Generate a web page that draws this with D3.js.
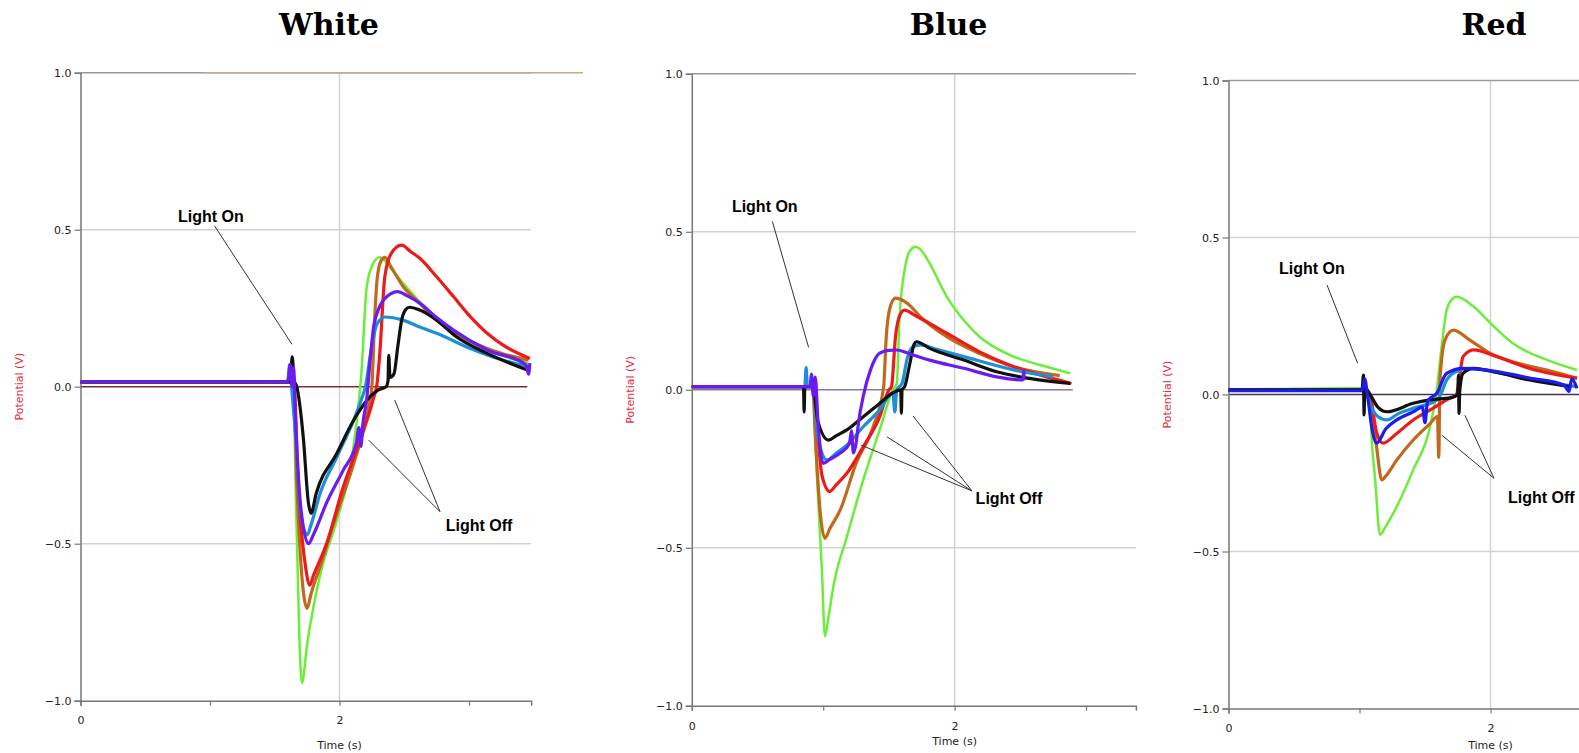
<!DOCTYPE html>
<html>
<head>
<meta charset="utf-8">
<script src="https://cdn.jsdelivr.net/npm/d3@7"></script>
<style>
body{margin:0;background:#fff;overflow:hidden}
</style>
</head>
<body>
<script>
let width = 1579;
let height = 753;

const titles = ['White', 'Blue', 'Red']
const yTicks = [1.0, 0.5, 0.0, -0.5, -1.0]
const yTickLabels = ['1.0', '0.5', '0.0', '\u22120.5', '\u22121.0']
const xTicks = [0, 1, 2, 3]
const xTickLabels = ['0', '', '2', '']
const seriesNames = ['green', 'brown', 'red', 'lightblue', 'black', 'purple']

// White light: [time (s), potential (V)]
const whiteGreen = [[0,0.015],[1.60,0.017],[1.63,0.04],[1.645,0.01],[1.66,-0.30],[1.69,-0.80],[1.71,-0.944],[1.75,-0.82],[1.85,-0.60],[1.98,-0.425],[2.08,-0.265],[2.14,-0.085],[2.17,0.05],[2.21,0.318],[2.26,0.393],[2.31,0.412],[2.40,0.375],[2.49,0.33],[2.62,0.27],[2.75,0.215],[3.01,0.142],[3.26,0.098],[3.46,0.075]]
const whiteBrown = [[0,0.015],[1.62,0.015],[1.645,0.0],[1.67,-0.30],[1.72,-0.65],[1.75,-0.706],[1.78,-0.66],[1.85,-0.573],[1.98,-0.403],[2.11,-0.244],[2.22,-0.074],[2.25,0.0],[2.27,0.2],[2.29,0.34],[2.32,0.40],[2.35,0.412],[2.40,0.38],[2.49,0.32],[2.62,0.265],[2.75,0.212],[3.01,0.145],[3.26,0.105],[3.46,0.085]]
const whiteRed = [[0,0.015],[1.62,0.015],[1.65,0.0],[1.68,-0.30],[1.74,-0.58],[1.77,-0.632],[1.80,-0.60],[1.90,-0.50],[2.03,-0.318],[2.16,-0.17],[2.26,-0.04],[2.29,0.01],[2.31,0.10],[2.35,0.35],[2.40,0.425],[2.48,0.451],[2.55,0.43],[2.62,0.409],[2.75,0.35],[2.88,0.287],[3.01,0.223],[3.14,0.17],[3.26,0.133],[3.47,0.09]]
const whitePurple = [[0,0.015],[1.60,0.015],[1.62,0.07],[1.635,0.0],[1.645,0.06],[1.66,-0.1],[1.70,-0.38],[1.76,-0.50],[1.80,-0.47],[1.90,-0.37],[2.03,-0.265],[2.13,-0.18],[2.15,-0.13],[2.165,-0.19],[2.18,-0.12],[2.21,-0.04],[2.24,0.10],[2.26,0.18],[2.30,0.245],[2.34,0.276],[2.45,0.303],[2.52,0.29],[2.62,0.266],[2.75,0.22],[2.88,0.18],[3.14,0.117],[3.44,0.07],[3.46,0.04],[3.47,0.075]]
const whiteLightBlue = [[0,0.015],[1.60,0.015],[1.615,0.07],[1.63,0.0],[1.66,-0.15],[1.70,-0.40],[1.75,-0.472],[1.78,-0.44],[1.85,-0.34],[1.98,-0.223],[2.11,-0.106],[2.17,-0.04],[2.20,0.0],[2.24,0.106],[2.29,0.20],[2.35,0.222],[2.49,0.212],[2.62,0.19],[2.75,0.17],[3.01,0.122],[3.26,0.085],[3.46,0.064]]
const whiteBlack = [[0,0.015],[1.62,0.015],[1.635,0.095],[1.65,0.02],[1.67,0.0],[1.72,-0.16],[1.76,-0.37],[1.78,-0.403],[1.82,-0.34],[1.98,-0.212],[2.11,-0.106],[2.24,-0.03],[2.30,-0.01],[2.36,0.0],[2.375,0.02],[2.38,0.10],[2.39,0.03],[2.42,0.04],[2.45,0.127],[2.48,0.212],[2.51,0.245],[2.54,0.253],[2.62,0.244],[2.75,0.212],[2.90,0.16],[3.14,0.106],[3.45,0.053]]

// Blue light
const blueGreen = [[0,0.01],[0.90,0.01],[0.925,0.0],[0.95,-0.254],[0.99,-0.57],[1.013,-0.78],[1.04,-0.72],[1.077,-0.623],[1.18,-0.465],[1.305,-0.285],[1.43,-0.127],[1.53,0.0],[1.56,0.02],[1.58,0.22],[1.62,0.38],[1.66,0.44],[1.70,0.453],[1.75,0.44],[1.81,0.40],[1.94,0.295],[2.07,0.22],[2.19,0.168],[2.32,0.131],[2.45,0.105],[2.70,0.073],[2.88,0.052]]
const blueBrown = [[0,0.01],[0.92,0.01],[0.94,-0.15],[0.98,-0.40],[1.013,-0.47],[1.05,-0.44],[1.13,-0.38],[1.25,-0.233],[1.38,-0.117],[1.46,0.01],[1.48,0.168],[1.51,0.263],[1.55,0.29],[1.64,0.274],[1.74,0.231],[1.94,0.168],[2.19,0.115],[2.45,0.073],[2.80,0.045]]
const blueRed = [[0,0.01],[0.92,0.01],[0.95,-0.10],[0.99,-0.27],[1.05,-0.322],[1.10,-0.30],[1.18,-0.264],[1.305,-0.18],[1.43,-0.085],[1.50,0.0],[1.52,0.01],[1.55,0.168],[1.59,0.242],[1.62,0.252],[1.70,0.235],[1.81,0.21],[1.94,0.179],[2.19,0.12],[2.45,0.073],[2.70,0.041],[2.89,0.02]]
const bluePurple = [[0,0.01],[0.90,0.01],[0.91,0.05],[0.925,-0.02],[0.94,0.04],[0.96,-0.10],[1.00,-0.233],[1.05,-0.22],[1.13,-0.20],[1.20,-0.17],[1.215,-0.13],[1.23,-0.20],[1.25,-0.17],[1.27,-0.10],[1.305,-0.02],[1.36,0.063],[1.43,0.116],[1.50,0.125],[1.56,0.126],[1.65,0.115],[1.81,0.094],[2.07,0.068],[2.32,0.041],[2.52,0.031],[2.525,0.06],[2.53,0.03]]
const blueLightBlue = [[0,0.01],[0.86,0.01],[0.87,0.07],[0.88,0.01],[0.92,0.01],[0.96,-0.15],[1.03,-0.222],[1.10,-0.20],[1.18,-0.175],[1.305,-0.117],[1.43,-0.064],[1.53,-0.01],[1.545,-0.07],[1.56,0.0],[1.60,0.02],[1.64,0.10],[1.68,0.135],[1.74,0.142],[1.85,0.13],[2.07,0.105],[2.45,0.063],[2.75,0.041]]
const blueBlack = [[0,0.01],[0.85,0.01],[0.855,-0.07],[0.86,0.01],[0.92,0.01],[0.96,-0.10],[1.04,-0.159],[1.10,-0.145],[1.18,-0.127],[1.305,-0.085],[1.43,-0.043],[1.53,-0.01],[1.59,0.0],[1.595,-0.074],[1.60,0.0],[1.62,0.01],[1.66,0.084],[1.69,0.142],[1.71,0.152],[1.81,0.131],[2.07,0.094],[2.32,0.057],[2.57,0.036],[2.88,0.02]]

// Red light
const redGreen = [[0,0.015],[1.00,0.02],[1.05,0.02],[1.08,0.0],[1.09,-0.113],[1.12,-0.272],[1.156,-0.447],[1.20,-0.42],[1.284,-0.357],[1.41,-0.24],[1.54,-0.10],[1.59,0.014],[1.627,0.152],[1.665,0.269],[1.70,0.30],[1.742,0.311],[1.87,0.28],[2.0,0.227],[2.17,0.163],[2.43,0.11],[2.66,0.078]]
const redBrown = [[0,0.015],[1.05,0.015],[1.08,0.0],[1.13,-0.166],[1.17,-0.272],[1.20,-0.26],[1.284,-0.209],[1.41,-0.145],[1.54,-0.092],[1.595,-0.07],[1.605,-0.2],[1.614,0.046],[1.653,0.174],[1.716,0.205],[1.84,0.174],[2.0,0.131],[2.17,0.104],[2.43,0.078],[2.66,0.052]]
const redRed = [[0,0.015],[1.05,0.015],[1.08,0.0],[1.13,-0.12],[1.18,-0.155],[1.284,-0.124],[1.41,-0.081],[1.54,-0.049],[1.665,-0.017],[1.74,0.0],[1.767,0.067],[1.79,0.12],[1.87,0.142],[2.05,0.12],[2.30,0.083],[2.66,0.052]]
const redPurple = [[0,0.012],[1.02,0.012],[1.04,0.05],[1.06,0.0],[1.10,-0.12],[1.13,-0.155],[1.20,-0.11],[1.284,-0.081],[1.41,-0.055],[1.48,-0.04],[1.50,-0.09],[1.52,-0.02],[1.59,0.004],[1.665,0.067],[1.79,0.083],[2.05,0.073],[2.30,0.052],[2.56,0.03],[2.60,0.01],[2.62,0.05],[2.66,0.02]]
const redLightBlue = [[0,0.015],[1.02,0.015],[1.05,0.01],[1.08,-0.03],[1.14,-0.07],[1.21,-0.081],[1.30,-0.06],[1.41,-0.044],[1.59,-0.017],[1.62,0.0],[1.665,0.046],[1.75,0.075],[1.84,0.083],[2.05,0.07],[2.30,0.048],[2.66,0.025]]
const redBlack = [[0,0.015],[1.02,0.015],[1.03,0.062],[1.035,-0.065],[1.04,0.02],[1.08,0.0],[1.14,-0.04],[1.21,-0.055],[1.41,-0.028],[1.54,-0.017],[1.70,-0.01],[1.75,0.0],[1.755,0.06],[1.76,-0.06],[1.765,0.01],[1.79,0.067],[1.87,0.083],[2.05,0.07],[2.30,0.046],[2.61,0.025]]

// annotation anchors in data units: [t, v]
const lightOnText = [[0.753,0.523],[0.305,0.564],[0.385,0.384]]
const lightOnLine = [[[1.035,0.512],[1.633,0.135]], [[0.613,0.533],[0.889,0.134]], [[0.752,0.349],[0.985,0.10]]]
const lightOffText = [[2.82,-0.459],[2.16,-0.36],[2.134,-0.347]]
const lightOffLines = [
  [[[2.776,-0.398],[2.426,-0.042]], [[2.776,-0.398],[2.225,-0.17]]],
  [[[2.132,-0.32],[1.288,-0.175]], [[2.132,-0.32],[1.486,-0.149]], [[2.132,-0.32],[1.684,-0.083]]],
  [[[2.027,-0.267],[1.627,-0.129]], [[2.027,-0.267],[1.805,-0.066]]]
]

const panelData = [
  {green: whiteGreen, brown: whiteBrown, red: whiteRed, purple: whitePurple, lightblue: whiteLightBlue, black: whiteBlack},
  {green: blueGreen, brown: blueBrown, red: blueRed, purple: bluePurple, lightblue: blueLightBlue, black: blueBlack},
  {green: redGreen, brown: redBrown, red: redRed, purple: redPurple, lightblue: redLightBlue, black: redBlack}
]

// layout of each screenshot panel
const layout = [
  {x0: 80.5, pxs: 129.5, xMax: 3.48, y0: 386.7, ppv: 314, zeroEnd: 3.45, zeroColor: '#7a2e2e', purple: '#6a1cf0', titleX: 329, timeY: 749},
  {x0: 691.8, pxs: 131.4, xMax: 3.38, y0: 389.8, ppv: 316, zeroEnd: 2.9, zeroColor: '#8f74aa', purple: '#6a1cf0', titleX: 948.5, timeY: 745},
  {x0: 1228.5, pxs: 131, xMax: 3.38, y0: 394.5, ppv: 314, zeroEnd: 3.38, zeroColor: '#3a3a55', purple: '#1c1cee', titleX: 1494, timeY: 749}
]

const colors = {green: '#6ced3a', brown: '#c0691c', red: '#ee1a1a', lightblue: '#1c8fd8', black: '#111111'}

const svg = d3.select('body').append('svg')
  .attr('width', width).attr('height', height)
  .style('font-family', 'DejaVu Sans, sans-serif')

const drawPanel = (idx) => {
  const L = layout[idx]
  const x = d3.scaleLinear().domain([0, L.xMax]).range([L.x0, L.x0 + L.xMax * L.pxs])
  const y = d3.scaleLinear().domain([-1, 1]).range([L.y0 + L.ppv, L.y0 - L.ppv])
  const g = svg.append('g').attr('class', 'panel')

  // title
  svg.append('text').text(titles[idx])
    .attr('x', L.titleX).attr('y', 35)
    .attr('text-anchor', 'middle')
    .style('font-family', 'DejaVu Serif, serif').style('font-weight', 'bold').style('font-size', '30px')

  // grid
  g.selectAll('.hgrid').data([0.5, -0.5]).enter().append('line')
    .attr('x1', x(0)).attr('x2', x(L.xMax)).attr('y1', d => y(d)).attr('y2', d => y(d))
    .attr('stroke', '#d2d2d2').attr('stroke-width', 1.5)
  g.append('line')
    .attr('x1', x(2)).attr('x2', x(2)).attr('y1', y(1)).attr('y2', y(-1))
    .attr('stroke', '#d2d2d2').attr('stroke-width', 1.5)
  g.append('line')
    .attr('x1', x(0)).attr('x2', x(L.xMax)).attr('y1', y(1)).attr('y2', y(1))
    .attr('stroke', '#9a9a9a').attr('stroke-width', 1.5)
  if (idx === 0) {
    g.append('line')
      .attr('x1', x(0.95)).attr('x2', x(3.88)).attr('y1', y(1)).attr('y2', y(1))
      .attr('stroke', '#c9a68c').attr('stroke-width', 1.5)
  }
  g.append('line')
    .attr('x1', x(0)).attr('x2', x(L.zeroEnd)).attr('y1', y(0)).attr('y2', y(0))
    .attr('stroke', L.zeroColor).attr('stroke-width', 1.5)

  // axes
  const minor = d3.range(-10, 11).map(d => d / 10)
  const yMinor = d3.axisLeft(y).tickValues(minor).tickSize(4).tickFormat('')
  const yMajor = d3.axisLeft(y).tickValues(yTicks).tickSize(6).tickFormat((d, i) => yTickLabels[i])
  const xAxis = d3.axisBottom(x).tickValues(xTicks).tickSize(5).tickFormat((d, i) => xTickLabels[i])

  const ya = g.append('g').attr('transform', `translate(${x(0)},0)`)
  ya.call(yMinor)
  ya.call(yMajor)
  const xa = g.append('g').attr('transform', `translate(0,${y(-1)})`).call(xAxis)
  g.selectAll('.domain').attr('stroke', '#777').attr('stroke-width', 1.5)
  g.selectAll('.tick line').attr('stroke', '#777').attr('stroke-width', 1.2)
  g.selectAll('.tick text').style('font-family', 'DejaVu Sans, sans-serif').style('font-size', '11px').attr('fill', '#222')
  ya.selectAll('.tick text').attr('x', -9)
  xa.selectAll('.tick text').attr('y', 16)

  // axis titles
  g.append('text').text('Potential (V)')
    .attr('transform', `translate(${x(0) - 58},${y(0)}) rotate(-90)`)
    .attr('text-anchor', 'middle').attr('fill', '#e8283c').style('font-size', '11px')
  g.append('text').text('Time (s)')
    .attr('x', x(2)).attr('y', L.timeY)
    .attr('text-anchor', 'middle').attr('fill', '#222').style('font-size', '11px')

  // traces
  const line = d3.line().x(d => x(d[0])).y(d => y(d[1])).curve(d3.curveMonotoneX)
  g.selectAll('.trace').data(seriesNames).enter().append('path')
    .attr('class', 'trace')
    .attr('d', name => line(panelData[idx][name]))
    .attr('fill', 'none')
    .attr('stroke', name => name === 'purple' ? L.purple : colors[name])
    .attr('stroke-width', name => name === 'green' ? 2.5 : 3.2)
    .attr('stroke-linejoin', 'round')

  // annotations
  const lo = lightOnLine[idx]
  g.append('line')
    .attr('x1', x(lo[0][0])).attr('y1', y(lo[0][1])).attr('x2', x(lo[1][0])).attr('y2', y(lo[1][1]))
    .attr('stroke', '#333').attr('stroke-width', 1)
  g.append('text').text('Light On')
    .attr('x', x(lightOnText[idx][0])).attr('y', y(lightOnText[idx][1]))
    .style('font-family', 'Liberation Sans, Arial, sans-serif').style('font-weight', 'bold').style('font-size', '16px')
  lightOffLines[idx].forEach(seg => {
    g.append('line')
      .attr('x1', x(seg[0][0])).attr('y1', y(seg[0][1])).attr('x2', x(seg[1][0])).attr('y2', y(seg[1][1]))
      .attr('stroke', '#333').attr('stroke-width', 1)
  })
  g.append('text').text('Light Off')
    .attr('x', x(lightOffText[idx][0])).attr('y', y(lightOffText[idx][1]))
    .style('font-family', 'Liberation Sans, Arial, sans-serif').style('font-weight', 'bold').style('font-size', '16px')
}

titles.forEach((t, i) => drawPanel(i))
</script>
</body>
</html>
